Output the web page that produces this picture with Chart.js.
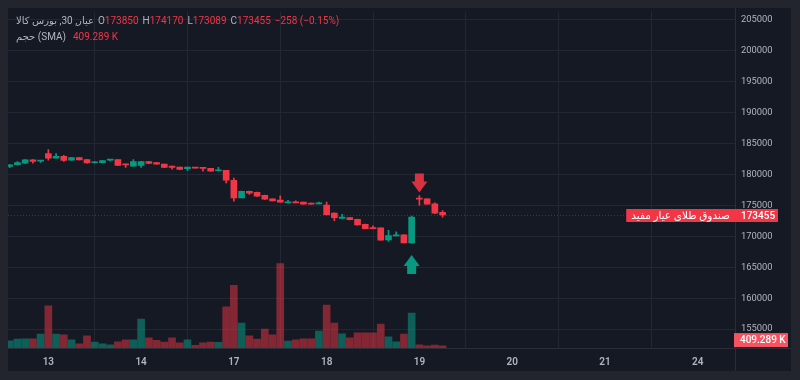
<!DOCTYPE html>
<html>
<head>
<meta charset="utf-8">
<script src="https://cdn.jsdelivr.net/npm/chart.js@4.4.1/dist/chart.umd.min.js"></script>
<style>
html, body { margin: 0; padding: 0; background: #22252e; }
</style>
</head>
<body>
<canvas id="chart" width="800" height="380"></canvas>
<script>
// 30 min candles, index 0 = first visible bar
const opens  = [181280,181550,181810,182350,182130,183360,182610,182930,182290,182700,182400,181870,181870,182290,182370,181650,181330,181440,182080,181920,181650,181330,181170,180920,181120,181120,180960,180590,180640,179040,176200,177270,177110,176630,176040,175830,175400,175560,175510,175350,175240,175030,173750,172900,173000,172740,171940,171400,171350,169420,170060,170220,168940,176100,176040,175240,173850];
const highs  = [181600,182080,182400,182380,182260,184010,183360,183080,182750,182750,182420,182080,182260,182420,182400,181670,182400,182100,182100,181940,181670,181350,181190,181190,181140,181140,180980,181120,180660,179410,177300,177290,177130,176650,176060,176520,175790,175720,175530,175370,175510,175510,173770,173540,173020,172760,171960,171670,171360,170980,170700,170240,173270,176590,176060,175400,174170];
const lows   = [181090,181540,181780,181810,181920,182290,182600,182110,182260,182330,181800,181810,181860,182130,181420,181120,181310,181120,181740,181630,181100,180850,180780,180590,180990,180530,180510,180570,178600,175670,176180,176750,176450,175970,175700,175490,175380,175380,175170,175170,175220,173460,172520,172880,172660,171810,171220,171220,169360,169150,170040,168920,168830,175030,175170,173710,173089];
const closes = [181550,181920,182350,182080,182240,182610,182930,182240,182700,182350,181840,181970,182240,182400,181440,181540,182080,182080,181760,181650,181120,181120,180800,181170,181010,180960,180530,180690,179080,176200,177270,176950,176470,175990,175720,175510,175560,175400,175190,175190,175350,173480,173000,173110,172680,171830,171240,171240,169380,170110,170220,168940,173110,175990,175190,173713,173455];
// volume, thousands
const volumes = [374,461,476,476,717,2186,717,681,425,220,630,307,220,169,323,425,425,1500,527,394,307,527,271,425,138,271,307,292,2135,3241,1295,630,461,973,681,4367,358,425,476,476,870,2217,1295,732,527,783,783,783,1244,579,323,717,1807,169,118,154,118];

const dayTicks  = [5, 17, 29, 41, 53, 65, 77, 89];
const dayLabels = ['13', '14', '17', '18', '19', '20', '21', '24'];
const priceTicks = [155000,160000,165000,170000,175000,180000,185000,190000,195000,200000,205000];

const title = 'عیار, 30, بورس کالا';
const symbolName = 'صندوق طلای عیار مفید';
const change = '\u2212258 (\u22120.15%)';
const volSma = 409.289;
const buyAt = 52;
const sellAt = 53;

const UP = '#089981', DOWN = '#f23645';
const TXT = '#b2b5be';
const FONT = 'Roboto, "DejaVu Sans", sans-serif';

const isUp = i => closes[i] >= opens[i];
const candleColors = opens.map((o, i) => isUp(i) ? UP : DOWN);
const volColors = opens.map((o, i) => isUp(i) ? 'rgba(8,153,129,0.55)' : 'rgba(242,54,69,0.5)');

const bodies = opens.map((o, i) => ({ x: i, y: [o, closes[i]] }));
const wicks = opens.map((o, i) => ({ x: i, y: [lows[i], highs[i]] }));
const vols = volumes.map((v, i) => ({ x: i, y: v }));

function arrow(ctx, x, tipY, dir, color) {
    // dir 1 = points down, -1 = points up
    ctx.fillStyle = color;
    ctx.beginPath();
    ctx.moveTo(x, tipY);
    ctx.lineTo(x - 8, tipY - dir * 11);
    ctx.lineTo(x - 4.5, tipY - dir * 11);
    ctx.lineTo(x - 4.5, tipY - dir * 19);
    ctx.lineTo(x + 4.5, tipY - dir * 19);
    ctx.lineTo(x + 4.5, tipY - dir * 11);
    ctx.lineTo(x + 8, tipY - dir * 11);
    ctx.closePath();
    ctx.fill();
}

const frame = {
    id: 'frame',
    beforeDraw: (chart) => {
        const ctx = chart.ctx;
        ctx.save();
        ctx.fillStyle = '#22252e';
        ctx.fillRect(0, 0, chart.width, chart.height);
        ctx.fillStyle = '#151924';
        ctx.fillRect(8, 8, chart.width - 17, chart.height - 17);
        ctx.restore();
    },
    afterDraw: (chart) => {
        const ctx = chart.ctx;
        const { left, right, top, bottom } = chart.chartArea;
        const x = chart.scales.x, y = chart.scales.y, v = chart.scales.v;
        ctx.save();
        // separators
        ctx.strokeStyle = '#2a2e39';
        ctx.lineWidth = 1;
        ctx.beginPath();
        ctx.moveTo(Math.round(right) + 0.5, 8);
        ctx.lineTo(Math.round(right) + 0.5, chart.height - 9);
        ctx.moveTo(8, Math.round(bottom) + 0.5);
        ctx.lineTo(chart.width - 9, Math.round(bottom) + 0.5);
        ctx.stroke();

        // signal arrows
        arrow(ctx, x.getPixelForValue(sellAt), y.getPixelForValue(highs[sellAt]) - 3, 1, '#d7323f');
        arrow(ctx, x.getPixelForValue(buyAt), y.getPixelForValue(lows[buyAt]) + 11.5, -1, UP);

        // last price line
        const last = closes.length - 1;
        const py = Math.round(y.getPixelForValue(closes[last])) + 0.5;
        ctx.strokeStyle = 'rgba(242,54,69,0.4)';
        ctx.setLineDash([1, 2]);
        ctx.beginPath();
        ctx.moveTo(left, py);
        ctx.lineTo(right, py);
        ctx.stroke();
        ctx.setLineDash([]);

        ctx.textBaseline = 'middle';
        ctx.textAlign = 'left';
        ctx.font = '10.5px ' + FONT;
        const nameW = ctx.measureText(symbolName).width + 10;
        ctx.fillStyle = DOWN;
        ctx.fillRect(right - nameW, py - 6.5, nameW + 43, 13);
        ctx.fillStyle = '#ffffff';
        ctx.fillText(symbolName, right - nameW + 5, py + 0.5);
        ctx.font = '500 10px ' + FONT;
        ctx.fillText(String(closes[last]), right + 6, py + 0.5);

        // volume sma label
        const vy = v.getPixelForValue(volSma);
        ctx.fillStyle = '#f7525f';
        ctx.fillRect(right - 1, vy - 7, 54, 14);
        ctx.fillStyle = '#ffffff';
        ctx.fillText(volSma.toFixed(3) + ' K', right + 5, vy + 0.5);

        // legend
        ctx.font = '10px ' + FONT;
        let lx = 16;
        ctx.fillStyle = TXT;
        ctx.fillText(title, lx, 21);
        lx += ctx.measureText(title).width + 4;
        const ohlc = [['O', opens[last]], ['H', highs[last]], ['L', lows[last]], ['C', closes[last]]];
        ohlc.forEach(([k, val]) => {
            ctx.fillStyle = TXT;
            ctx.fillText(k, lx, 21);
            lx += ctx.measureText(k).width;
            ctx.fillStyle = DOWN;
            ctx.fillText(String(val), lx, 21);
            lx += ctx.measureText(String(val)).width + 4;
        });
        ctx.fillText(change, lx, 21);

        ctx.fillStyle = TXT;
        ctx.fillText('حجم (SMA)', 16, 37);
        const w2 = ctx.measureText('حجم (SMA)').width;
        ctx.fillStyle = DOWN;
        ctx.fillText(volSma.toFixed(3) + ' K', 16 + w2 + 7, 37);
        ctx.restore();
    }
};

const config = {
    type: 'bar',
    data: {
        datasets: [{
            data: vols,
            yAxisID: 'v',
            backgroundColor: volColors,
            barThickness: 7,
            grouped: false,
            order: 3
        }, {
            data: wicks,
            yAxisID: 'y',
            backgroundColor: candleColors,
            barThickness: 1,
            grouped: false,
            order: 2
        }, {
            data: bodies,
            yAxisID: 'y',
            backgroundColor: candleColors,
            barThickness: 6,
            minBarLength: 1,
            grouped: false,
            order: 1
        }]
    },
    options: {
        responsive: false,
        devicePixelRatio: 1,
        animation: false,
        layout: { padding: { left: 8, top: 8, right: 9, bottom: 9 } },
        plugins: {
            legend: { display: false },
            tooltip: { enabled: false }
        },
        scales: {
            x: {
                type: 'linear',
                min: -0.22,
                max: 93.83,
                offset: false,
                afterBuildTicks: s => { s.ticks = dayTicks.map(v => ({ value: v })); },
                afterFit: s => { s.height = 23; },
                ticks: {
                    autoSkip: false,
                    maxRotation: 0,
                    padding: 8,
                    color: TXT,
                    font: { family: FONT, size: 10, weight: '600' },
                    callback: v => dayLabels[dayTicks.indexOf(v)]
                },
                grid: { color: '#232733', drawTicks: false },
                border: { display: false }
            },
            y: {
                position: 'right',
                min: 151955,
                max: 206282,
                afterBuildTicks: s => { s.ticks = priceTicks.map(v => ({ value: v })); },
                afterFit: s => { s.width = 56; },
                ticks: {
                    padding: 6,
                    color: TXT,
                    font: { family: FONT, size: 9.4 },
                    callback: v => String(v)
                },
                grid: { color: '#232733', drawTicks: false },
                border: { display: false }
            },
            v: {
                display: false,
                min: 0,
                max: 17408
            }
        }
    },
    plugins: [frame]
};

const chart = new Chart(document.getElementById('chart').getContext('2d'), config);
</script>
</body>
</html>
